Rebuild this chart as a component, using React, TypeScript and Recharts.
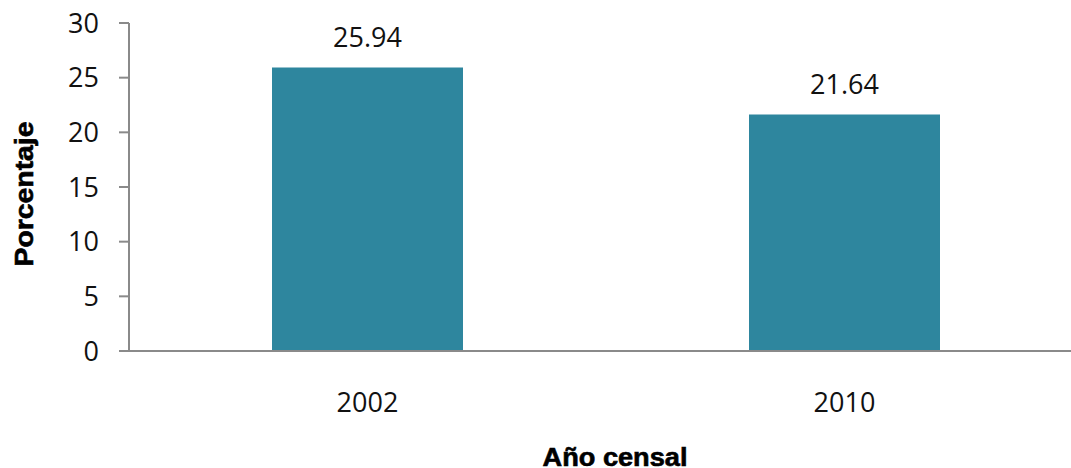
import { BarChart, Bar, XAxis, YAxis, LabelList, Label } from 'recharts';

const years = ['2002', '2010'];
const percentages = [25.94, 21.64];
const yTicks = [0, 5, 10, 15, 20, 25, 30];

const data = years.map((year, i) => ({ year, value: percentages[i] }));

const tickFont = { fontFamily: 'Open Sans', fontSize: 27, fill: '#111' };
const titleFont = {
  fontFamily: 'Liberation Sans',
  fontSize: 25,
  fontWeight: 'bold' as const,
  fill: '#000',
  stroke: '#000',
  strokeWidth: 0.6,
};

function XTitle({ viewBox }: any) {
  const { x, y, width } = viewBox;
  return (
    <text x={x + width / 2 + 9} y={y + 115} textAnchor="middle" textLength={145} lengthAdjust="spacingAndGlyphs" {...titleFont}>
      Año censal
    </text>
  );
}

function YTitle({ viewBox }: any) {
  const { y, height } = viewBox;
  const cx = 33;
  const cy = y + height / 2 + 7;
  return (
    <text x={cx} y={cy} textAnchor="middle" textLength={145} lengthAdjust="spacingAndGlyphs" transform={`rotate(-90 ${cx} ${cy})`} {...titleFont}>
      Porcentaje
    </text>
  );
}

export default function App() {
  return (
    <div style={{ position: 'absolute', left: 0, top: 0, width: 1071, height: 468, overflow: 'hidden', background: '#fff' }}>
      <BarChart width={1083} height={468} data={data} margin={{ top: 23, right: 0, left: 0, bottom: 0 }}>
        <XAxis
          dataKey="year"
          height={117}
          tickLine={false}
          tickSize={0}
          tickMargin={42}
          tick={tickFont}
          axisLine={{ stroke: '#8a8a8a', strokeWidth: 2 }}
        >
          <Label content={<XTitle />} />
        </XAxis>
        <YAxis
          width={129}
          domain={[0, 30]}
          ticks={yTicks}
          interval={0}
          tickSize={10}
          tickMargin={20}
          tick={tickFont}
          tickLine={{ stroke: '#8a8a8a', strokeWidth: 2 }}
          axisLine={{ stroke: '#8a8a8a', strokeWidth: 2 }}
        >
          <Label content={<YTitle />} />
        </YAxis>
        <Bar dataKey="value" fill="#2E869E" barSize={191} isAnimationActive={false}>
          <LabelList dataKey="value" position="top" offset={20} formatter={(v: any) => Number(v).toFixed(2)} style={tickFont} />
        </Bar>
      </BarChart>
    </div>
  );
}
